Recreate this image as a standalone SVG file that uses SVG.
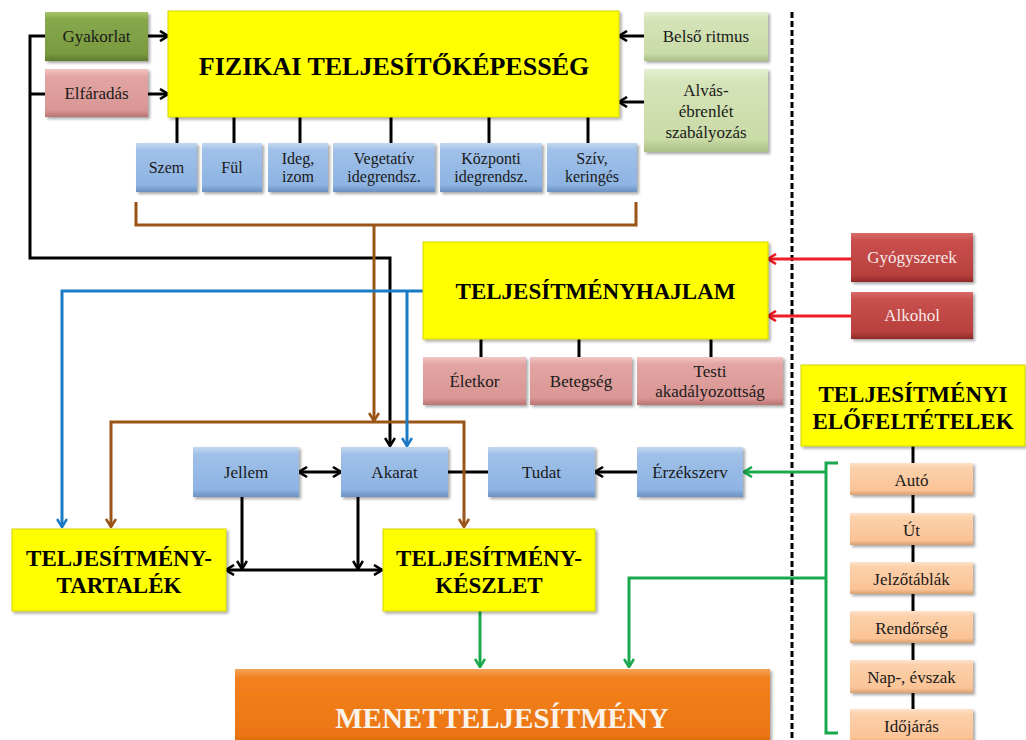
<svg xmlns="http://www.w3.org/2000/svg" width="1026" height="740" viewBox="0 0 1026 740">
<style>
  text { font-family: "Liberation Serif", "Times New Roman", serif; fill: #1a1a1a; text-anchor: middle; }
  .n { font-size: 17px; }
  .s { font-size: 16px; }
  .h { font-weight: bold; fill: #000; font-size: 23px; }
  .w { fill: #f6e8e8; }
  .box { filter: url(#sh); }
  .yel { fill: #ffff00; stroke: #d6d600; stroke-width: 1; }
  .ln { fill: none; stroke-width: 3; }
  .k { stroke: #000; }
  .br { stroke: #9a5416; }
  .bl { stroke: #1b7ac4; }
  .rd { stroke: #ee1c25; }
  .gr { stroke: #1aa84e; }
</style>
<defs>
  <filter id="sh" x="-5%" y="-10%" width="115%" height="130%">
    <feDropShadow dx="2" dy="2" stdDeviation="1.5" flood-color="#000" flood-opacity="0.35"/>
  </filter>
  <linearGradient id="gOlive" x1="0" y1="0" x2="0" y2="1">
    <stop offset="0" stop-color="#a9c56e"/><stop offset="0.15" stop-color="#86a84b"/>
    <stop offset="0.85" stop-color="#7a9a40"/><stop offset="1" stop-color="#5e7a2c"/>
  </linearGradient>
  <linearGradient id="gPink" x1="0" y1="0" x2="0" y2="1">
    <stop offset="0" stop-color="#f0c6c5"/><stop offset="0.15" stop-color="#e2a5a3"/>
    <stop offset="0.85" stop-color="#d99694"/><stop offset="1" stop-color="#b97573"/>
  </linearGradient>
  <linearGradient id="gLgreen" x1="0" y1="0" x2="0" y2="1">
    <stop offset="0" stop-color="#e6efd4"/><stop offset="0.15" stop-color="#d5e4b9"/>
    <stop offset="0.85" stop-color="#c9dba6"/><stop offset="1" stop-color="#a9bd84"/>
  </linearGradient>
  <linearGradient id="gBlue" x1="0" y1="0" x2="0" y2="1">
    <stop offset="0" stop-color="#c3d7f0"/><stop offset="0.15" stop-color="#9fc0e8"/>
    <stop offset="0.85" stop-color="#8eb4e3"/><stop offset="1" stop-color="#6c91c0"/>
  </linearGradient>
  <linearGradient id="gRed" x1="0" y1="0" x2="0" y2="1">
    <stop offset="0" stop-color="#d86b68"/><stop offset="0.15" stop-color="#c9504d"/>
    <stop offset="0.85" stop-color="#b8403d"/><stop offset="1" stop-color="#8e2a28"/>
  </linearGradient>
  <linearGradient id="gPeach" x1="0" y1="0" x2="0" y2="1">
    <stop offset="0" stop-color="#fee3cb"/><stop offset="0.15" stop-color="#fcd1ab"/>
    <stop offset="0.85" stop-color="#fbc396"/><stop offset="1" stop-color="#d9a070"/>
  </linearGradient>
  <linearGradient id="gOrange" x1="0" y1="0" x2="0" y2="1">
    <stop offset="0" stop-color="#f6a35b"/><stop offset="0.12" stop-color="#f1801c"/>
    <stop offset="0.88" stop-color="#ec7612"/><stop offset="1" stop-color="#c9600a"/>
  </linearGradient>
  <marker id="aK" viewBox="0 0 12 12" refX="11" refY="6" markerWidth="12" markerHeight="12" markerUnits="userSpaceOnUse" orient="auto-start-reverse">
    <path d="M3,1 L11,6 L3,11" fill="none" stroke="#000" stroke-width="2.6"/>
  </marker>
  <marker id="aBr" viewBox="0 0 12 12" refX="11" refY="6" markerWidth="12" markerHeight="12" markerUnits="userSpaceOnUse" orient="auto-start-reverse">
    <path d="M3,1 L11,6 L3,11" fill="none" stroke="#9a5416" stroke-width="2.6"/>
  </marker>
  <marker id="aBl" viewBox="0 0 12 12" refX="11" refY="6" markerWidth="12" markerHeight="12" markerUnits="userSpaceOnUse" orient="auto-start-reverse">
    <path d="M3,1 L11,6 L3,11" fill="none" stroke="#1b7ac4" stroke-width="2.6"/>
  </marker>
  <marker id="aRd" viewBox="0 0 12 12" refX="11" refY="6" markerWidth="12" markerHeight="12" markerUnits="userSpaceOnUse" orient="auto-start-reverse">
    <path d="M3,1 L11,6 L3,11" fill="none" stroke="#ee1c25" stroke-width="2.6"/>
  </marker>
  <marker id="aGr" viewBox="0 0 12 12" refX="11" refY="6" markerWidth="12" markerHeight="12" markerUnits="userSpaceOnUse" orient="auto-start-reverse">
    <path d="M3,1 L11,6 L3,11" fill="none" stroke="#1aa84e" stroke-width="2.6"/>
  </marker>
</defs>

<rect width="1026" height="740" fill="#ffffff"/>

<!-- divider between personal and external factors -->
<line x1="792" y1="12" x2="792" y2="740" stroke="#000" stroke-width="3" stroke-dasharray="6 3"/>

<!-- connectors -->
<g id="connectors">
  <!-- black -->
  <line class="ln k" x1="148" y1="36" x2="168" y2="36" marker-end="url(#aK)"/>
  <line class="ln k" x1="148" y1="94" x2="168" y2="94" marker-end="url(#aK)"/>
  <line class="ln k" x1="644" y1="36" x2="619" y2="36" marker-end="url(#aK)"/>
  <line class="ln k" x1="644" y1="102" x2="619" y2="102" marker-end="url(#aK)"/>
  <path class="ln k" d="M177,117 V143 M234,117 V143 M300,117 V143 M391,117 V143 M489,117 V143 M588,117 V143"/>
  <path class="ln k" d="M45,94 H30"/>
  <path class="ln k" d="M45,36 H30 V258 H390 V446" marker-end="url(#aK)"/>
  <line class="ln k" x1="299" y1="472" x2="341" y2="472" marker-start="url(#aK)" marker-end="url(#aK)"/>
  <line class="ln k" x1="448" y1="472" x2="488" y2="472"/>
  <line class="ln k" x1="637" y1="472" x2="595" y2="472" marker-end="url(#aK)"/>
  <line class="ln k" x1="242" y1="497" x2="242" y2="569" marker-end="url(#aK)"/>
  <line class="ln k" x1="358" y1="497" x2="358" y2="569" marker-end="url(#aK)"/>
  <line class="ln k" x1="226" y1="570" x2="382" y2="570" marker-start="url(#aK)" marker-end="url(#aK)"/>
  <path class="ln k" d="M481,339 V357 M579,339 V357 M711,339 V357"/>
  <path class="ln k" d="M913,446 V463 M913,495 V513 M913,545 V562 M913,594 V611 M913,643 V660 M913,693 V709"/>
  <!-- brown -->
  <path class="ln br" d="M136,202 V225 H636 V202"/>
  <line class="ln br" x1="374" y1="225" x2="374" y2="421" marker-end="url(#aBr)"/>
  <path class="ln br" d="M111,527 V422 H464 V527" marker-start="url(#aBr)" marker-end="url(#aBr)"/>
  <!-- blue -->
  <path class="ln bl" d="M423,291 H62 V527" marker-end="url(#aBl)"/>
  <line class="ln bl" x1="407" y1="291" x2="407" y2="446" marker-end="url(#aBl)"/>
  <!-- red -->
  <line class="ln rd" x1="851" y1="259" x2="768" y2="259" marker-end="url(#aRd)"/>
  <line class="ln rd" x1="851" y1="316" x2="768" y2="316" marker-end="url(#aRd)"/>
  <!-- green -->
  <path class="ln gr" d="M838,463 H826 V733 H838"/>
  <line class="ln gr" x1="826" y1="472" x2="744" y2="472" marker-end="url(#aGr)"/>
  <path class="ln gr" d="M826,578 H629 V667" marker-end="url(#aGr)"/>
  <line class="ln gr" x1="480" y1="611" x2="480" y2="667" marker-end="url(#aGr)"/>
</g>

<!-- physical capability block -->
<g id="fizikai"><rect class="box yel" x="168" y="11" width="451" height="106"/>
  <text class="h" x="394" y="75" style="font-size:26px">FIZIKAI TELJESÍTŐKÉPESSÉG</text></g>
<g id="gyakorlat"><rect class="box" x="45" y="12" width="103" height="49" fill="url(#gOlive)"/>
  <text class="n" x="96.5" y="42">Gyakorlat</text></g>
<g id="elfaradas"><rect class="box" x="45" y="69" width="103" height="48" fill="url(#gPink)"/>
  <text class="n" x="96.5" y="99">Elfáradás</text></g>
<g id="belso-ritmus"><rect class="box" x="644" y="12" width="124" height="49" fill="url(#gLgreen)"/>
  <text class="n" x="706" y="42">Belső ritmus</text></g>
<g id="alvas"><rect class="box" x="644" y="69" width="124" height="83" fill="url(#gLgreen)"/>
  <text class="n" x="706" y="96">Alvás-</text>
  <text class="n" x="706" y="117">ébrenlét</text>
  <text class="n" x="706" y="138">szabályozás</text></g>

<g id="szem"><rect class="box" x="136" y="143" width="61" height="49" fill="url(#gBlue)"/>
  <text class="s" x="166.5" y="173">Szem</text></g>
<g id="ful"><rect class="box" x="202" y="143" width="60" height="49" fill="url(#gBlue)"/>
  <text class="s" x="232" y="173">Fül</text></g>
<g id="ideg"><rect class="box" x="268" y="143" width="60" height="49" fill="url(#gBlue)"/>
  <text class="s" x="298" y="164">Ideg,</text><text class="s" x="298" y="182">izom</text></g>
<g id="vegetativ"><rect class="box" x="333" y="143" width="102" height="49" fill="url(#gBlue)"/>
  <text class="s" x="384" y="164">Vegetatív</text><text class="s" x="384" y="182">idegrendsz.</text></g>
<g id="kozponti"><rect class="box" x="440" y="143" width="102" height="49" fill="url(#gBlue)"/>
  <text class="s" x="491" y="164">Központi</text><text class="s" x="491" y="182">idegrendsz.</text></g>
<g id="sziv"><rect class="box" x="547" y="143" width="90" height="49" fill="url(#gBlue)"/>
  <text class="s" x="592" y="164">Szív,</text><text class="s" x="592" y="182">keringés</text></g>

<!-- disposition block -->
<g id="hajlam"><rect class="box yel" x="423" y="242" width="345" height="97"/>
  <text class="h" x="595.5" y="299">TELJESÍTMÉNYHAJLAM</text></g>
<g id="eletkor"><rect class="box" x="423" y="357" width="103" height="48" fill="url(#gPink)"/>
  <text class="n" x="474.5" y="387">Életkor</text></g>
<g id="betegseg"><rect class="box" x="530" y="357" width="102" height="48" fill="url(#gPink)"/>
  <text class="n" x="581" y="387">Betegség</text></g>
<g id="testi"><rect class="box" x="637" y="357" width="146" height="48" fill="url(#gPink)"/>
  <text class="n" x="710" y="377">Testi</text><text class="n" x="710" y="397">akadályozottság</text></g>
<g id="gyogyszerek"><rect class="box" x="851" y="233" width="122" height="49" fill="url(#gRed)"/>
  <text class="n w" x="912" y="263">Gyógyszerek</text></g>
<g id="alkohol"><rect class="box" x="851" y="292" width="122" height="47" fill="url(#gRed)"/>
  <text class="n w" x="912" y="321">Alkohol</text></g>

<!-- external preconditions -->
<g id="elofeltetelek"><rect class="box yel" x="801" y="365" width="224" height="81"/>
  <text class="h" x="913" y="402">TELJESÍTMÉNYI</text><text class="h" x="913" y="429">ELŐFELTÉTELEK</text></g>
<g id="auto"><rect class="box" x="850" y="463" width="123" height="32" fill="url(#gPeach)"/>
  <text class="n" x="911.5" y="486">Autó</text></g>
<g id="ut"><rect class="box" x="850" y="513" width="123" height="32" fill="url(#gPeach)"/>
  <text class="n" x="911.5" y="536">Út</text></g>
<g id="jelzotablak"><rect class="box" x="850" y="562" width="123" height="32" fill="url(#gPeach)"/>
  <text class="n" x="911.5" y="585">Jelzőtáblák</text></g>
<g id="rendorseg"><rect class="box" x="850" y="611" width="123" height="32" fill="url(#gPeach)"/>
  <text class="n" x="911.5" y="634">Rendőrség</text></g>
<g id="nap-evszak"><rect class="box" x="850" y="660" width="123" height="33" fill="url(#gPeach)"/>
  <text class="n" x="911.5" y="683">Nap-, évszak</text></g>
<g id="idojaras"><rect class="box" x="850" y="709" width="123" height="34" fill="url(#gPeach)"/>
  <text class="n" x="911.5" y="732">Időjárás</text></g>

<!-- psychological chain -->
<g id="jellem"><rect class="box" x="193" y="447" width="106" height="50" fill="url(#gBlue)"/>
  <text class="n" x="246" y="478">Jellem</text></g>
<g id="akarat"><rect class="box" x="341" y="447" width="107" height="50" fill="url(#gBlue)"/>
  <text class="n" x="394.5" y="478">Akarat</text></g>
<g id="tudat"><rect class="box" x="488" y="447" width="107" height="50" fill="url(#gBlue)"/>
  <text class="n" x="541.5" y="478">Tudat</text></g>
<g id="erzekszerv"><rect class="box" x="637" y="447" width="106" height="50" fill="url(#gBlue)"/>
  <text class="n" x="690" y="478">Érzékszerv</text></g>

<!-- reserve, capacity, outcome -->
<g id="tartalek"><rect class="box yel" x="12" y="529" width="214" height="82"/>
  <text class="h" x="119" y="566">TELJESÍTMÉNY-</text><text class="h" x="119" y="593">TARTALÉK</text></g>
<g id="keszlet"><rect class="box yel" x="383" y="529" width="212" height="82"/>
  <text class="h" x="489" y="566">TELJESÍTMÉNY-</text><text class="h" x="489" y="593">KÉSZLET</text></g>
<g id="menet"><rect class="box" x="235" y="669" width="535" height="76" fill="url(#gOrange)"/>
  <text class="h" x="502" y="728" style="font-size:29px;fill:#fbf3ea">MENETTELJESÍTMÉNY</text></g>
</svg>
